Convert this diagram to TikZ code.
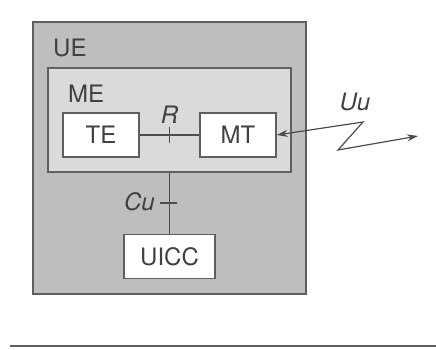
\documentclass[tikz,border=0pt]{standalone}
\usepackage{fontspec}
\setmainfont{TeX Gyre Heros}
\usepackage{xcolor}
\usetikzlibrary{arrows.meta, positioning, calc}

\definecolor{uegray}{RGB}{190,190,190}
\definecolor{megray}{RGB}{218,218,218}
\definecolor{edge}{RGB}{95,95,95}

\begin{document}
\begin{tikzpicture}[
      x=1pt, y=-1pt, >={Stealth[length=11pt, width=7pt]},
      font=\fontsize{24}{28}\selectfont,
      box/.style={draw=edge, line width=1.3pt, inner sep=0pt, align=center},
      outer/.style={box, fill=uegray, minimum width=273pt, minimum height=272pt},
      inner/.style={box, fill=megray, minimum width=243pt, minimum height=104pt},
      unit/.style={box, fill=white, minimum width=76pt, minimum height=44pt, text=black!75},
      tag/.style={inner sep=0pt, text=black!75},
      iface/.style={inner sep=0pt, text=black!75, font=\fontsize{24}{28}\selectfont\itshape},
      link/.style={draw=black!70, line width=1.2pt},
    ]
      \useasboundingbox (0,0) rectangle (436,350);

      % equipment boxes
      \node[outer] (ue) at (169.5,158) {};
      \node[tag, anchor=west] (uelbl) at (53,48) {UE};
      \node[inner] (me) at (169.5,120) {};
      \node[tag, anchor=west] (melbl) at (68,94) {ME};
      \node[unit] (te) at (101,135) {TE};
      \node[unit] (mt) at (238,135) {MT};
      \node[unit, minimum width=91pt] (uicc) at (169.5,256.5) {UICC};

      % reference points
      \draw[link] (te) -- (mt);
      \draw[link] ($(te.east)!0.5!(mt.west)+(0,-8)$) -- ++(0,16);
      \node[iface] (r) at ($(te.east)!0.5!(mt.west)+(0,-20)$) {R};

      \draw[link] (me.south) -- (uicc.north);
      \draw[link] (160,203) -- (177,203);
      \node[iface, anchor=east] (cu) at (155,202) {Cu};

      % radio interface
      \coordinate (zz1) at (363,122);
      \coordinate (zz2) at (338,150);
      \coordinate (air) at (418,136);
      \draw[link, <->] (mt.east) -- (zz1) -- (zz2) -- (air);
      \node[iface] (uu) at (355,102) {Uu};

      % rule at the foot
      \draw[draw=edge, line width=2.5pt] (10,346) -- (436,346);
    \end{tikzpicture}
\end{document}
